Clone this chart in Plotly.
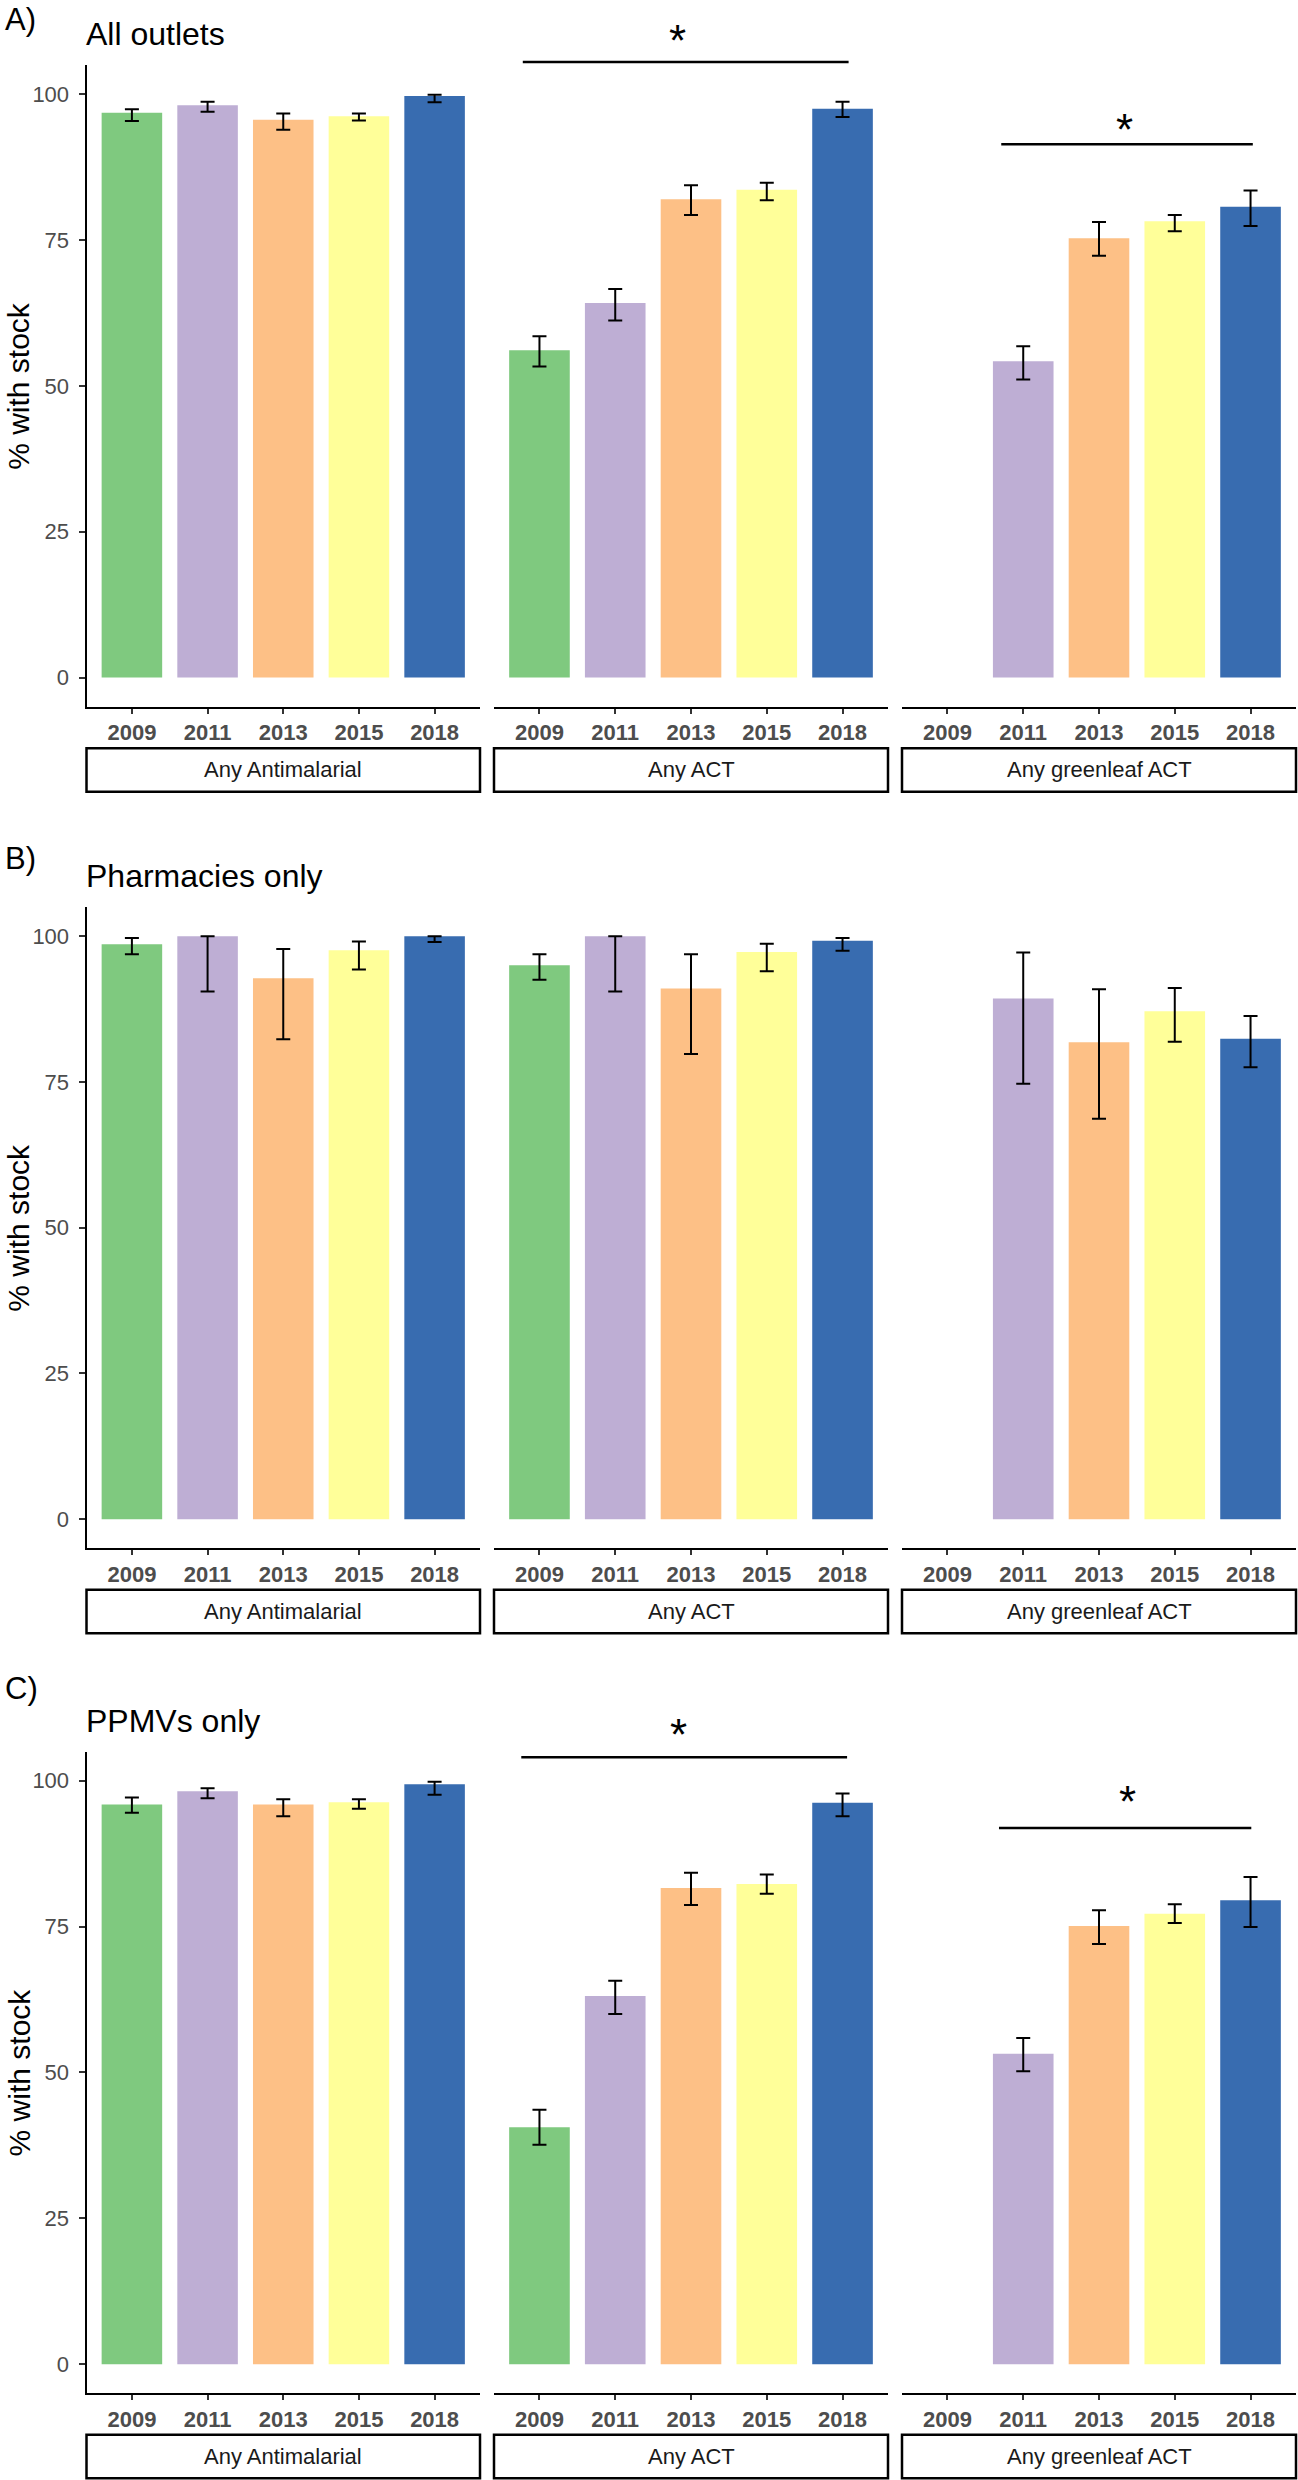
import plotly.graph_objects as go

# ---------------- data ----------------
years = ["2009", "2011", "2013", "2015", "2018"]
facets = ["Any Antimalarial", "Any ACT", "Any greenleaf ACT"]
panel_labels = ["A)", "B)", "C)"]
panel_titles = ["All outlets", "Pharmacies only", "PPMVs only"]
year_colors = ["#7FC97F", "#BEAED4", "#FDC086", "#FFFF99", "#386CB0"]
y_ticks = [0, 25, 50, 75, 100]

# A) All outlets
a_am_val = [96.8, 98.1, 95.6, 96.2, 99.7]
a_am_lo = [95.4, 97.0, 93.9, 95.5, 98.6]
a_am_hi = [97.4, 98.7, 96.7, 96.7, 99.9]
a_act_val = [56.1, 64.2, 82.0, 83.6, 97.5]
a_act_lo = [53.3, 61.2, 79.3, 81.8, 96.1]
a_act_hi = [58.5, 66.6, 84.4, 84.8, 98.7]
a_gl_val = [None, 54.2, 75.3, 78.2, 80.7]
a_gl_lo = [None, 51.1, 72.3, 76.5, 77.4]
a_gl_hi = [None, 56.8, 78.1, 79.3, 83.5]

# B) Pharmacies only
b_am_val = [98.6, 100.0, 92.8, 97.6, 100.0]
b_am_lo = [96.9, 90.5, 82.3, 94.3, 99.0]
b_am_hi = [99.7, 100.0, 97.8, 99.1, 100.0]
b_act_val = [95.0, 100.0, 91.0, 97.3, 99.2]
b_act_lo = [92.5, 90.5, 79.8, 94.0, 97.5]
b_act_hi = [96.9, 100.0, 96.9, 98.7, 99.7]
b_gl_val = [None, 89.3, 81.8, 87.1, 82.4]
b_gl_lo = [None, 74.7, 68.7, 81.9, 77.5]
b_gl_hi = [None, 97.2, 90.9, 91.1, 86.3]

# C) PPMVs only
c_am_val = [95.9, 98.2, 95.9, 96.3, 99.4]
c_am_lo = [94.5, 97.0, 93.9, 95.2, 97.6]
c_am_hi = [97.1, 98.7, 96.8, 96.8, 99.8]
c_act_val = [40.6, 63.1, 81.6, 82.3, 96.2]
c_act_lo = [37.6, 60.0, 78.7, 80.6, 93.9]
c_act_hi = [43.6, 65.7, 84.2, 83.9, 97.8]
c_gl_val = [None, 53.2, 75.1, 77.2, 79.5]
c_gl_lo = [None, 50.2, 72.0, 75.6, 74.9]
c_gl_hi = [None, 55.9, 77.8, 78.8, 83.5]

# significance brackets: (row, col, x_start, x_end, y_line, x_star, y_star)
sig_marks = [
    (0, 1, -0.22, 4.08, 105.5, 1.82, 109.8),
    (0, 2, 0.71, 4.03, 91.4, 2.34, 94.7),
    (2, 1, -0.24, 4.06, 104.0, 1.83, 108.6),
    (2, 2, 0.68, 4.01, 91.9, 2.37, 97.1),
]

panels = [
    [(a_am_val, a_am_lo, a_am_hi), (a_act_val, a_act_lo, a_act_hi), (a_gl_val, a_gl_lo, a_gl_hi)],
    [(b_am_val, b_am_lo, b_am_hi), (b_act_val, b_act_lo, b_act_hi), (b_gl_val, b_gl_lo, b_gl_hi)],
    [(c_am_val, c_am_lo, c_am_hi), (c_act_val, c_act_lo, c_act_hi), (c_gl_val, c_gl_lo, c_gl_hi)],
]

# ---------------- layout geometry (pixels) ----------------
W, H = 1298, 2480
col_px = [(86.5, 480.0), (494.0, 888.0), (902.0, 1296.0)]
row_px = [(65.0, 706.7), (907.0, 1548.3), (1751.5, 2393.3)]
y_range = [-5, 105]
x_range = [-0.6, 4.6]
FONT = "Liberation Sans, Arial, sans-serif"


def fx(px):
    return px / W


def fy(py):
    return 1 - py / H


def ydata_to_paper(v, r):
    top, bot = row_px[r]
    return fy(bot - (v - y_range[0]) / (y_range[1] - y_range[0]) * (bot - top))


def xdata_to_paper(v, c):
    left, right = col_px[c]
    return fx(left + (v - x_range[0]) / (x_range[1] - x_range[0]) * (right - left))


fig = go.Figure()
layout = {}
shapes = []
annotations = []

for r in range(3):
    for c in range(3):
        k = r * 3 + c + 1
        xa = "x" if k == 1 else f"x{k}"
        ya = "y" if k == 1 else f"y{k}"
        vals, lo, hi = panels[r][c]
        err_p = [None if v is None else h - v for v, h in zip(vals, hi)]
        err_m = [None if v is None else v - l for v, l in zip(vals, lo)]
        fig.add_trace(go.Bar(
            x=years, y=vals, xaxis=xa, yaxis=ya,
            marker=dict(color=year_colors, line=dict(width=0)),
            width=0.8, showlegend=False,
            error_y=dict(type="data", symmetric=False, array=err_p, arrayminus=err_m,
                         color="black", thickness=2, width=7),
        ))
        xkey = "xaxis" if k == 1 else f"xaxis{k}"
        ykey = "yaxis" if k == 1 else f"yaxis{k}"
        layout[xkey] = dict(
            domain=[fx(col_px[c][0]), fx(col_px[c][1])], anchor=ya,
            type="category", categoryorder="array", categoryarray=years,
            range=x_range, showline=True, linecolor="black", linewidth=2,
            ticks="outside", ticklen=5, tickwidth=1.5, tickcolor="#333333",
            tickfont=dict(family=FONT, size=22, color="#4D4D4D", weight="bold"),
            showgrid=False, zeroline=False, fixedrange=True,
        )
        show_y = (c == 0)
        layout[ykey] = dict(
            domain=[fy(row_px[r][1]), fy(row_px[r][0])], anchor=xa,
            range=y_range, tickvals=y_ticks, showgrid=False, zeroline=False,
            showline=show_y, linecolor="black", linewidth=2,
            ticks="outside" if show_y else "", ticklen=6, tickwidth=1.5, tickcolor="#333333",
            showticklabels=show_y, ticklabelstandoff=5,
            tickfont=dict(family=FONT, size=22, color="#4D4D4D"),
            fixedrange=True,
        )
        # strip box under axis
        bot = row_px[r][1]
        shapes.append(dict(type="rect", xref="paper", yref="paper",
                           x0=fx(col_px[c][0]), x1=fx(col_px[c][1]),
                           y0=fy(bot + 85), y1=fy(bot + 41.5),
                           line=dict(color="black", width=2.5), fillcolor="white"))
        annotations.append(dict(xref="paper", yref="paper",
                                x=fx((col_px[c][0] + col_px[c][1]) / 2), y=fy(bot + 63),
                                text=facets[c], showarrow=False, xanchor="center", yanchor="middle",
                                font=dict(family=FONT, size=22, color="#1A1A1A")))
    # y-axis title
    annotations.append(dict(xref="paper", yref="paper", x=fx(19), y=fy((row_px[r][0] + row_px[r][1]) / 2),
                            text="% with stock", textangle=-90, showarrow=False,
                            xanchor="center", yanchor="middle",
                            font=dict(family=FONT, size=30, color="black")))
    # panel title and label
    annotations.append(dict(xref="paper", yref="paper", x=fx(84), y=fy(row_px[r][0] - 31),
                            text=panel_titles[r], showarrow=False, xanchor="left", yanchor="middle",
                            font=dict(family=FONT, size=32, color="black")))
    lab_y = [19, 858, 1688][r]
    annotations.append(dict(xref="paper", yref="paper", x=fx(3), y=fy(lab_y),
                            text=panel_labels[r], showarrow=False, xanchor="left", yanchor="middle",
                            font=dict(family=FONT, size=31, color="black")))

for (r, c, xs, xe, yl, xst, yst) in sig_marks:
    shapes.append(dict(type="line", xref="paper", yref="paper",
                       x0=xdata_to_paper(xs, c), x1=xdata_to_paper(xe, c),
                       y0=ydata_to_paper(yl, r), y1=ydata_to_paper(yl, r),
                       line=dict(color="black", width=2.5)))
    annotations.append(dict(xref="paper", yref="paper",
                            x=xdata_to_paper(xst, c), y=ydata_to_paper(yst, r),
                            text="*", showarrow=False, xanchor="center", yanchor="middle",
                            yshift=-4,
                            font=dict(family=FONT, size=44, color="black")))

fig.update_layout(
    width=W, height=H, margin=dict(l=0, r=0, t=0, b=0),
    paper_bgcolor="white", plot_bgcolor="white",
    shapes=shapes, annotations=annotations, bargap=0.2,
    **layout,
)
fig.write_html("out.html", config={"displayModeBar": False},
               post_script="document.body.style.margin='0';document.body.style.overflow='hidden';")
